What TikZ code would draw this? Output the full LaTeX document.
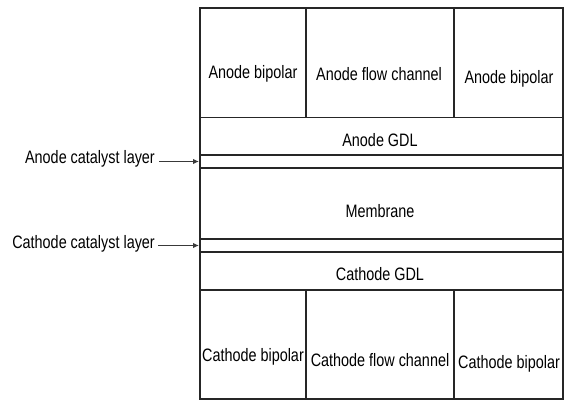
\documentclass[tikz,border=0pt]{standalone}
\usepackage{fontspec}
\setmainfont{Liberation Sans}[FakeStretch=0.8]
\usetikzlibrary{arrows.meta}

\begin{document}
\begin{tikzpicture}[x=1pt, y=-1pt, font=\fontsize{18}{20}\selectfont,
        layer/.style={draw, line width=1.2pt, black!85},
        pointer/.style={-{Latex[length=6pt,width=5.5pt]}, line width=1.8pt, gray!45!black}]
            \useasboundingbox (0,0) rectangle (568,401);

            % Outer frame and layer boundaries
            \draw [layer] (200,8) rectangle (563,399);
            \draw [layer] (200,117.5) -- (563,117.5);
            \draw [layer] (200,155) -- (563,155);
            \draw [layer] (200,168) -- (563,168);
            \draw [layer] (200,239) -- (563,239);
            \draw [layer] (200,252) -- (563,252);
            \draw [layer] (200,290) -- (563,290);

            % Bipolar plates and flow channels
            \draw [layer] (306,8) -- (306,117.5);
            \draw [layer] (454,8) -- (454,117.5);
            \draw [layer] (306,290) -- (306,399);
            \draw [layer] (454,290) -- (454,399);

            % Anode side
            \node (anodeBipL) at (253,74) {Anode bipolar};
            \node (anodeFlow) at (379,74) {Anode flow channel};
            \node (anodeBipR) at (509,79) {Anode bipolar};
            \node (anodeGDL) at (380,140) {Anode GDL};

            % Membrane
            \node (membrane) at (380,211) {Membrane};

            % Cathode side
            \node (cathodeGDL) at (380,274) {Cathode GDL};
            \node (cathodeBipL) at (253,357) {Cathode bipolar};
            \node (cathodeFlow) at (380,360) {Cathode flow channel};
            \node (cathodeBipR) at (509,364) {Cathode bipolar};

            % Catalyst layers
            \coordinate (anodeCat) at (199,161.5);
            \coordinate (cathodeCat) at (199,245.5);
            \node [anchor=east, inner sep=1pt] (anodeCatLbl) at (156,158.5) {Anode catalyst layer};
            \node [anchor=east, inner sep=1pt] (cathodeCatLbl) at (156,243.5) {Cathode catalyst layer};
            \draw [pointer] (anodeCatLbl.east |- anodeCat) ++(3,0) -- (anodeCat);
            \draw [pointer] (cathodeCatLbl.east |- cathodeCat) ++(2,0) -- (cathodeCat);
\end{tikzpicture}
\end{document}
